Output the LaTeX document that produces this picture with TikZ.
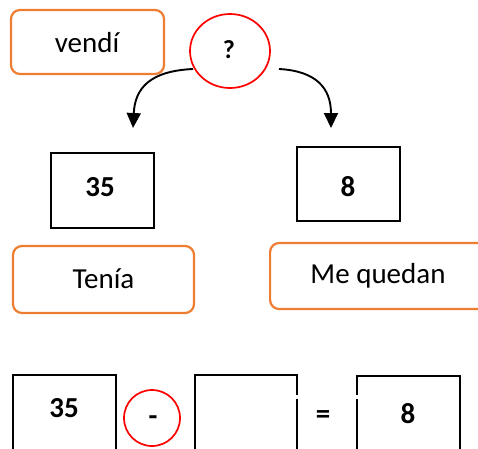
\documentclass[tikz,border=0pt]{standalone}
\usepackage{fontspec}
\setmainfont{Carlito}
\usetikzlibrary{arrows.meta,shapes.geometric}
\definecolor{orng}{HTML}{ED7D31}
\definecolor{rd}{HTML}{FF0000}
\tikzset{
  lbl/.style={draw=orng,line width=2.2pt,rounded corners=9pt},
  txt/.style={font=\fontsize{29}{31}\selectfont},
  numbox/.style={draw=black,line width=1.7pt},
  plain/.style={font=\fontsize{29}{31}\selectfont\bfseries},
  redring/.style={draw=rd,line width=1.7pt},
  conn/.style={line width=1.9pt,-{Triangle[length=15pt,width=14pt]}},
  edge/.style={line width=1.7pt}
}
\begin{document}
\begin{tikzpicture}[x=1pt,y=-1pt]
\useasboundingbox (0,0) rectangle (478,448);
\clip (0,0) rectangle (478,448);
% top labels
\node[lbl,minimum width=153pt,minimum height=64pt] (vendi) at (87.5,42) {};
\node[txt] (venditxt) at (87,43) {vendí};
\node[redring,ellipse,minimum width=80pt,minimum height=74pt,inner sep=0pt] (q) at (230,51) {};
\node[font=\fontsize{26}{28}\selectfont\bfseries] (qtxt) at (229,50) {?};
% boxes
\node[numbox,minimum width=103pt,minimum height=75pt] (n35) at (102.5,190.5) {};
\node[plain] (n35txt) at (100,187) {35};
\node[numbox,minimum width=103pt,minimum height=74pt] (n8) at (348.5,184) {};
\node[plain] (n8txt) at (348,187) {8};
\node[lbl,minimum width=181pt,minimum height=67pt] (tenia) at (103.5,279.5) {};
\node[txt] (teniatxt) at (103.5,279) {Tenía};
\node[lbl,minimum width=240pt,minimum height=66pt,anchor=west] (queda) at (269,276) {};
\node[txt] (quedat) at (378,276) {Me quedan};
% arrows
\coordinate (s1) at (193,69);
\coordinate (e1) at (133,128);
\coordinate (s2) at (279,69);
\coordinate (e2) at (331,128);
\draw[conn] (s1) .. controls (150,71) and (135,88) .. (e1);
\draw[conn] (s2) .. controls (316,71) and (331,88) .. (e2);
% bottom equation
\draw[edge] (13,460) -- (13,375) -- (116,375) -- (116,460);
\node[plain] (b35) at (64,408) {35};
\draw[redring] (152,418) circle[radius=28pt];
\node[plain] (minus) at (153,421) {-};
\draw[edge] (195,460) -- (195,375) -- (297,375) -- (297,394.5);
\draw[edge] (297,398.5) -- (297,460);
\node[plain] (eq) at (323,417) {=};
\draw[edge] (357,460) -- (357,398.5);
\draw[edge] (357,394.5) -- (357,376) -- (460,376) -- (460,460);
\node[plain] (b8) at (408,414) {8};
\end{tikzpicture}
\end{document}
